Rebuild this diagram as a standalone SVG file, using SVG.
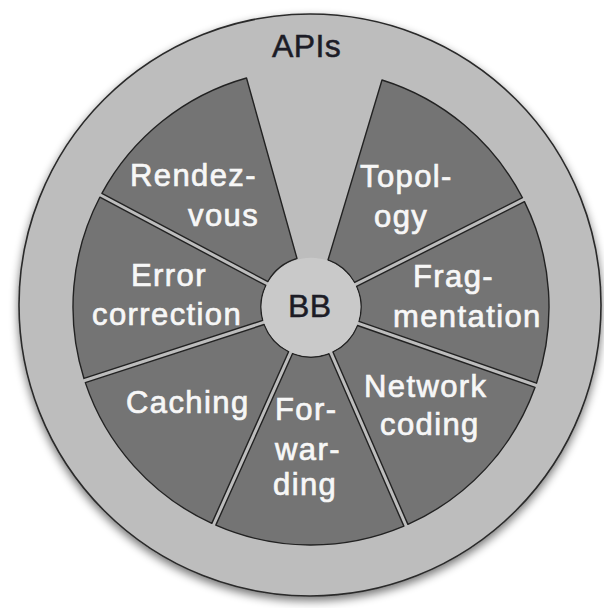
<svg xmlns="http://www.w3.org/2000/svg" width="604" height="608" viewBox="0 0 604 608">
  <defs>
    <filter id="shadow" x="-10%" y="-10%" width="120%" height="125%">
      <feGaussianBlur in="SourceAlpha" stdDeviation="5"/>
      <feOffset dx="0" dy="4" result="b"/>
      <feComponentTransfer><feFuncA type="linear" slope="0.55"/></feComponentTransfer>
      <feMerge><feMergeNode/><feMergeNode in="SourceGraphic"/></feMerge>
    </filter>
  </defs>
  <style>
    .ring { fill: #bdbdbd; stroke: #2a2a2a; stroke-width: 1.6; }
    .sector { fill: #747474; stroke: #222; stroke-width: 1.4; stroke-linejoin: round; }
    .hub { fill: #c9c9c9; }
    .wt { font-family: "Liberation Sans", Arial, Helvetica, sans-serif; font-size: 31px; fill: #f7f7f7; stroke: #f7f7f7; stroke-width: 0.7px; letter-spacing: 1.4px; }
    .dt { font-family: "Liberation Sans", Arial, Helvetica, sans-serif; font-size: 32px; fill: #1c1c26; stroke: #1c1c26; stroke-width: 0.5px; letter-spacing: 0.4px; }
  </style>
  <rect width="604" height="608" fill="#ffffff"/>

  <g id="apis">
    <circle class="ring" cx="310" cy="305" r="291" filter="url(#shadow)"/>
    <text class="dt" x="272" y="57">APIs</text>
  </g>

  <g id="connectors"></g>

  <g id="topology">
    <path class="sector" d="M328,260 L382,80 A238,238 0 0 1 522.45,197.73 L354.64,282.49 A50,50 0 0 0 328,260 Z"/>
    <text class="wt" x="360" y="187">Topol-</text>
    <text class="wt" x="374" y="227">ogy</text>
  </g>

  <g id="fragmentation">
    <path class="sector" d="M356.62,286.42 L524.43,201.65 A238,238 0 0 1 536.49,383.20 L358.94,321.37 A50,50 0 0 0 356.62,286.42 Z"/>
    <text class="wt" x="413" y="287">Frag-</text>
    <text class="wt" x="393" y="327">mentation</text>
  </g>

  <g id="network-coding">
    <path class="sector" d="M357.50,325.52 L535.05,387.36 A238,238 0 0 1 407.91,524.39 L332.95,351.98 A50,50 0 0 0 357.50,325.52 Z"/>
    <text class="wt" x="364" y="397">Network</text>
    <text class="wt" x="380" y="435">coding</text>
  </g>

  <g id="forwarding">
    <path class="sector" d="M328.92,353.73 L403.87,526.15 A238,238 0 0 1 215.83,525.15 L292.59,353.54 A50,50 0 0 0 328.92,353.73 Z"/>
    <text class="wt" x="275" y="420">For-</text>
    <text class="wt" x="275" y="460">war-</text>
    <text class="wt" x="273" y="495">ding</text>
  </g>

  <g id="caching">
    <path class="sector" d="M288.58,351.74 L211.81,523.35 A238,238 0 0 1 85.32,382.63 L264.12,324.54 A50,50 0 0 0 288.58,351.74 Z"/>
    <text class="wt" x="126" y="413">Caching</text>
  </g>

  <g id="error-correction">
    <path class="sector" d="M262.77,320.36 L83.96,378.45 A238,238 0 0 1 99.84,197.20 L265.82,285.47 A50,50 0 0 0 262.77,320.36 Z"/>
    <text class="wt" x="131" y="286">Error</text>
    <text class="wt" x="92" y="325">correction</text>
  </g>

  <g id="rendezvous">
    <path class="sector" d="M267.89,281.58 L101.90,193.32 A238,238 0 0 1 246.5,78 L297,258.5 A50,50 0 0 0 267.89,281.58 Z"/>
    <text class="wt" x="130" y="186">Rendez-</text>
    <text class="wt" x="188" y="226">vous</text>
  </g>

  <g id="bb">
    <circle class="hub" cx="311" cy="307" r="49.3"/>
    <text class="dt" x="288" y="317">BB</text>
  </g>
</svg>
